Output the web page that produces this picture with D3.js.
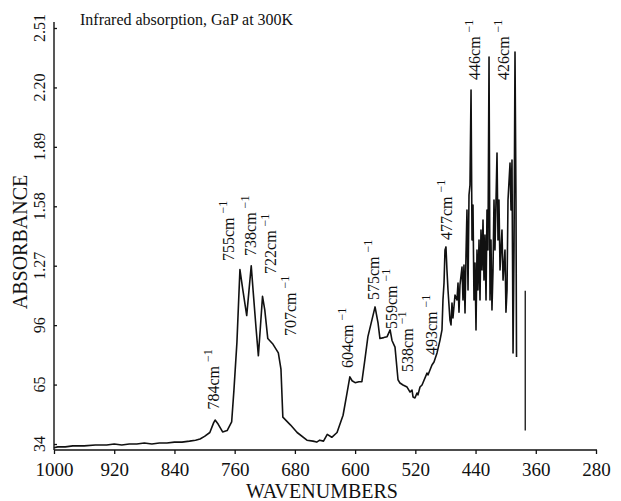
<!DOCTYPE html>
<html>
<head>
<meta charset="utf-8">
<script src="https://cdn.jsdelivr.net/npm/d3@7"></script>
<style>
  html, body { margin: 0; padding: 0; background: #fff; }
  svg { display: block; }
  text { font-family: "Liberation Serif", "Times New Roman", serif; fill: #111; }
</style>
</head>
<body>
<svg id="chart" width="621" height="501"></svg>
<script>
// ---------------- data ----------------
const xTickValues = [1000, 920, 840, 760, 680, 600, 520, 440, 360, 280];
const xTickLabels = ["1000", "920", "840", "760", "680", "600", "520", "440", "360", "280"];
const yTickValues = [0.34, 0.65, 0.96, 1.27, 1.58, 1.89, 2.20, 2.51];
const yTickLabels = ["34", "65", "96", "1.27", "1.58", "1.89", "2.20", "2.51"];

const wavenumbers = [
  1000, 995, 985, 975, 960, 945, 930, 920, 910, 900, 890, 880, 870, 860, 850, 840, 830, 820, 812, 806,
  800, 793, 788, 786, 782, 776, 770, 764, 761, 757, 753, 749, 744, 741, 738, 735.5, 731.5, 728.5, 726, 723,
  720, 716, 709, 702, 698.5, 696, 686, 677, 664, 656, 651, 647, 642, 637, 631, 624, 616, 611, 607, 604,
  600, 595, 591, 587, 583, 577.5, 573.5, 569.5, 567, 562, 557.5, 553.5, 551, 547, 543, 540.4, 536.4, 531, 527, 524.4,
  523, 520.5, 517.8, 516.5, 513.8, 511.1, 504.5, 503.2, 497.9, 495.2, 491.2, 487.2, 484.6, 483.3, 481.9, 480.6, 479.3, 478, 476.6, 474,
  472.6, 471.3, 470, 467.3, 464.7, 463.3, 462, 460.7, 458, 456.7, 455.4, 454, 452.7, 451.4, 450, 448.7, 447.4, 446, 444.7, 443.4,
  442.1, 440.7, 439.4, 438.1, 436.8, 435.4, 434.1, 432.8, 431.4, 430.1, 428.8, 427.5, 426.1, 424.8, 423.5, 422.1, 420.8, 419.5, 418.2, 416.8,
  415.5, 414.2, 411.5, 410.2, 408.9, 407.5, 404.9, 403.5, 400.9, 399.6, 398.2, 396.9, 394.2, 392.9, 391.6, 390.2, 388.9, 387.6, 386.3, 385.6
];
const absorbance = [
  0.32, 0.325, 0.325, 0.33, 0.33, 0.335, 0.335, 0.34, 0.335, 0.34, 0.34, 0.345, 0.34, 0.345, 0.345, 0.35, 0.35, 0.355, 0.36, 0.366,
  0.38, 0.40, 0.45, 0.465, 0.444, 0.403, 0.41, 0.455, 0.62, 0.87, 1.25, 1.14, 1.01, 1.14, 1.27, 1.14, 0.94, 0.80, 0.94, 1.11,
  1.04, 0.89, 0.86, 0.815, 0.73, 0.48, 0.44, 0.40, 0.36, 0.355, 0.35, 0.36, 0.355, 0.39, 0.375, 0.40, 0.49, 0.60, 0.69, 0.67,
  0.66, 0.665, 0.665, 0.78, 0.90, 0.99, 1.055, 0.97, 0.89, 0.895, 0.90, 0.935, 0.88, 0.845, 0.675, 0.658, 0.648, 0.637, 0.611, 0.621,
  0.585, 0.58, 0.606, 0.596, 0.637, 0.648, 0.71, 0.70, 0.752, 0.768, 0.815, 0.882, 0.935, 1.091, 1.18, 1.352, 1.368, 1.248, 1.143, 0.987,
  0.961, 1.075, 0.997, 1.117, 1.091, 1.18, 1.028, 1.169, 1.263, 1.091, 1.274, 1.023, 1.326, 1.56, 1.143, 1.639, 1.691, 2.186, 1.404, 1.587,
  1.091, 1.284, 0.935, 1.352, 1.143, 1.404, 1.091, 1.456, 1.248, 1.508, 1.195, 1.43, 1.091, 1.561, 1.352, 2.359, 1.091, 1.404, 1.039, 1.248,
  1.613, 1.352, 1.858, 1.404, 1.613, 1.248, 1.456, 1.195, 1.352, 1.027, 1.143, 1.613, 1.806, 1.561, 1.821, 0.815, 1.352, 2.385, 1.613, 0.794
];
// isolated spike to the right of the main trace
const spikeWavenumbers = [374, 374];
const spikeAbsorbance = [1.14, 0.41];

// peak annotations
const peakNames = ["784", "755", "738", "722", "707", "604", "575", "559", "538", "493", "477", "446", "426"];
const peakLabelWavenumbers = [780.8, 760.9, 731.7, 705.1, 678.5, 602.8, 568.3, 544.4, 523.1, 491.2, 471.3, 434.1, 395.6];
const peakLabelAbsorbance = [0.52, 1.294, 1.321, 1.227, 0.903, 0.736, 1.091, 0.94, 0.716, 0.804, 1.404, 2.239, 2.239];

const titleText = "Infrared absorption, GaP at 300K";
const xTitle = "WAVENUMBERS";
const yTitle = "ABSORBANCE";

// ---------------- drawing ----------------
const svg = d3.select("#chart");
const x = d3.scaleLinear().domain([1000, 280]).range([54, 596]);
const y = d3.scaleLinear().domain([0.34, 2.51]).range([444, 28]);
const axisY = 450;

// x axis
const xAxis = d3.axisBottom(x).tickValues(xTickValues)
  .tickFormat((d, i) => xTickLabels[i]).tickSize(4).tickSizeOuter(0);
const gx = svg.append("g").attr("transform", `translate(0,${axisY})`).call(xAxis);
gx.select(".domain").remove();
gx.selectAll("line").attr("stroke", "#111").attr("stroke-width", 1.3);
gx.selectAll("text").attr("font-size", 19).attr("dy", null).attr("y", 26)
  .attr("font-family", "Liberation Serif, serif").attr("fill", "#111");
svg.append("line").attr("x1", 54).attr("x2", 597).attr("y1", axisY).attr("y2", axisY)
  .attr("stroke", "#111").attr("stroke-width", 1.4);

// y axis
const yAxis = d3.axisLeft(y).tickValues(yTickValues).tickFormat(() => "").tickSize(-3).tickSizeOuter(0);
const gy = svg.append("g").attr("transform", "translate(54,0)").call(yAxis);
gy.select(".domain").remove();
gy.selectAll("line").attr("stroke", "#111").attr("stroke-width", 1.3);
svg.append("line").attr("x1", 54).attr("x2", 54).attr("y1", 22).attr("y2", axisY)
  .attr("stroke", "#111").attr("stroke-width", 1.4);
svg.append("g").selectAll("text").data(yTickValues).join("text")
  .attr("transform", d => `translate(45,${y(d)}) rotate(-90)`)
  .attr("text-anchor", "middle").attr("font-size", 16)
  .text((d, i) => yTickLabels[i]);

// titles
svg.append("text").attr("x", 80).attr("y", 25).attr("font-size", 16).text(titleText);
svg.append("text").attr("x", 322).attr("y", 498).attr("text-anchor", "middle")
  .attr("font-size", 20).text(xTitle);
svg.append("text").attr("transform", "translate(27,242) rotate(-90)")
  .attr("text-anchor", "middle").attr("font-size", 20).text(yTitle);

// spectrum
const pts = wavenumbers.map((w, i) => [w, absorbance[i]]);
const line = d3.line().x(d => x(d[0])).y(d => y(d[1]));
svg.append("path").datum(pts).attr("d", line)
  .attr("fill", "none").attr("stroke", "#111").attr("stroke-width", 1.6).attr("stroke-linejoin", "round");
const spk = spikeWavenumbers.map((w, i) => [w, spikeAbsorbance[i]]);
svg.append("path").datum(spk).attr("d", line)
  .attr("fill", "none").attr("stroke", "#111").attr("stroke-width", 1.3);

// peak labels
const lab = svg.append("g").selectAll("text").data(peakNames).join("text")
  .attr("transform", (d, i) => `translate(${x(peakLabelWavenumbers[i])},${y(peakLabelAbsorbance[i])}) rotate(-90)`)
  .attr("font-size", 16);
lab.append("tspan").text(d => d + "cm");
lab.append("tspan").attr("dx", 4).attr("dy", -7).attr("font-size", 12).text("\u22121");
</script>
</body>
</html>
